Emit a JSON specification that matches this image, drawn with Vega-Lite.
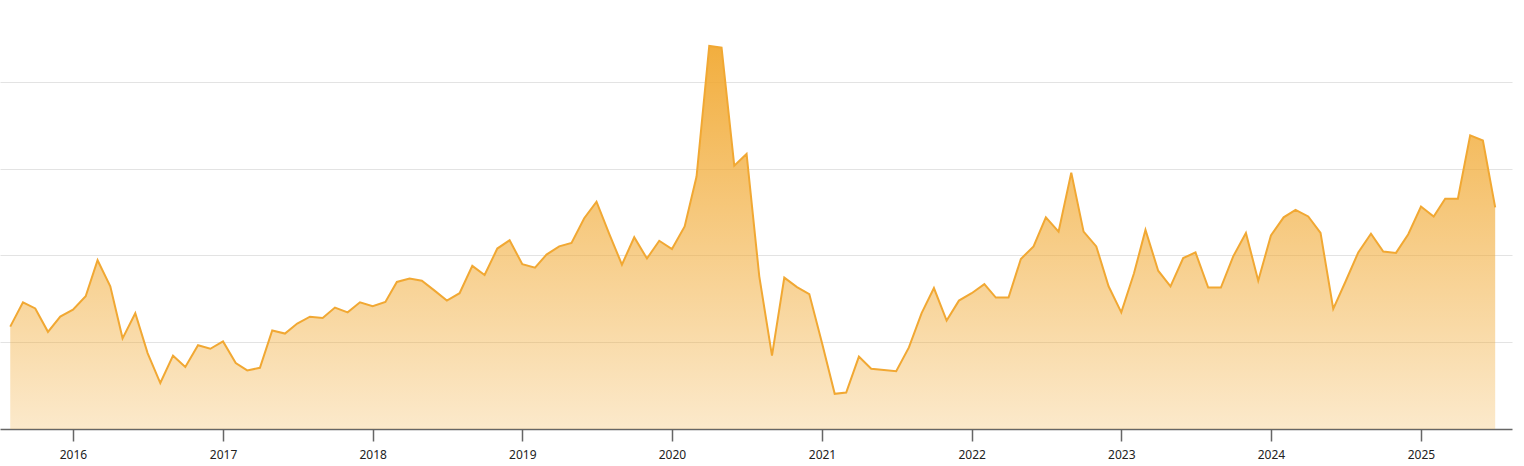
{
  "$schema": "https://vega.github.io/schema/vega-lite/v6.json",
  "width": 1512,
  "height": 429,
  "padding": {"left": 0, "top": 0, "right": 12, "bottom": 1},
  "background": "white",
  "config": {"view": {"stroke": null}},
  "data": {
    "values": [
      {"date": "2015-08-01", "value": 23.6},
      {"date": "2015-09-01", "value": 29.2},
      {"date": "2015-10-01", "value": 27.8},
      {"date": "2015-11-01", "value": 22.4},
      {"date": "2015-12-01", "value": 25.9},
      {"date": "2016-01-01", "value": 27.5},
      {"date": "2016-02-01", "value": 30.6},
      {"date": "2016-03-01", "value": 38.9},
      {"date": "2016-04-01", "value": 32.9},
      {"date": "2016-05-01", "value": 20.9},
      {"date": "2016-06-01", "value": 26.7},
      {"date": "2016-07-01", "value": 17.5},
      {"date": "2016-08-01", "value": 10.6},
      {"date": "2016-09-01", "value": 16.9},
      {"date": "2016-10-01", "value": 14.3},
      {"date": "2016-11-01", "value": 19.3},
      {"date": "2016-12-01", "value": 18.5},
      {"date": "2017-01-01", "value": 20.2},
      {"date": "2017-02-01", "value": 15.2},
      {"date": "2017-03-01", "value": 13.5},
      {"date": "2017-04-01", "value": 14.1},
      {"date": "2017-05-01", "value": 22.7},
      {"date": "2017-06-01", "value": 22.0},
      {"date": "2017-07-01", "value": 24.3},
      {"date": "2017-08-01", "value": 25.9},
      {"date": "2017-09-01", "value": 25.6},
      {"date": "2017-10-01", "value": 28.0},
      {"date": "2017-11-01", "value": 26.9},
      {"date": "2017-12-01", "value": 29.2},
      {"date": "2018-01-01", "value": 28.3},
      {"date": "2018-02-01", "value": 29.3},
      {"date": "2018-03-01", "value": 33.9},
      {"date": "2018-04-01", "value": 34.7},
      {"date": "2018-05-01", "value": 34.2},
      {"date": "2018-06-01", "value": 31.9},
      {"date": "2018-07-01", "value": 29.6},
      {"date": "2018-08-01", "value": 31.3},
      {"date": "2018-09-01", "value": 37.6},
      {"date": "2018-10-01", "value": 35.5},
      {"date": "2018-11-01", "value": 41.6},
      {"date": "2018-12-01", "value": 43.5},
      {"date": "2019-01-01", "value": 38.0},
      {"date": "2019-02-01", "value": 37.2},
      {"date": "2019-03-01", "value": 40.2},
      {"date": "2019-04-01", "value": 42.1},
      {"date": "2019-05-01", "value": 42.9},
      {"date": "2019-06-01", "value": 48.6},
      {"date": "2019-07-01", "value": 52.4},
      {"date": "2019-08-01", "value": 45.0},
      {"date": "2019-09-01", "value": 37.9},
      {"date": "2019-10-01", "value": 44.2},
      {"date": "2019-11-01", "value": 39.3},
      {"date": "2019-12-01", "value": 43.4},
      {"date": "2020-01-01", "value": 41.5},
      {"date": "2020-02-01", "value": 46.7},
      {"date": "2020-03-01", "value": 58.2},
      {"date": "2020-04-01", "value": 88.3},
      {"date": "2020-05-01", "value": 87.9},
      {"date": "2020-06-01", "value": 60.7},
      {"date": "2020-07-01", "value": 63.4},
      {"date": "2020-08-01", "value": 35.2},
      {"date": "2020-09-01", "value": 16.9},
      {"date": "2020-10-01", "value": 34.9},
      {"date": "2020-11-01", "value": 32.7},
      {"date": "2020-12-01", "value": 31.1},
      {"date": "2021-01-01", "value": 19.8},
      {"date": "2021-02-01", "value": 8.1},
      {"date": "2021-03-01", "value": 8.4},
      {"date": "2021-04-01", "value": 16.7},
      {"date": "2021-05-01", "value": 13.9},
      {"date": "2021-06-01", "value": 13.6},
      {"date": "2021-07-01", "value": 13.3},
      {"date": "2021-08-01", "value": 18.8},
      {"date": "2021-09-01", "value": 26.7},
      {"date": "2021-10-01", "value": 32.5},
      {"date": "2021-11-01", "value": 25.0},
      {"date": "2021-12-01", "value": 29.6},
      {"date": "2022-01-01", "value": 31.3},
      {"date": "2022-02-01", "value": 33.4},
      {"date": "2022-03-01", "value": 30.3},
      {"date": "2022-04-01", "value": 30.3},
      {"date": "2022-05-01", "value": 39.2},
      {"date": "2022-06-01", "value": 42.1},
      {"date": "2022-07-01", "value": 48.8},
      {"date": "2022-08-01", "value": 45.5},
      {"date": "2022-09-01", "value": 59.1},
      {"date": "2022-10-01", "value": 45.5},
      {"date": "2022-11-01", "value": 42.1},
      {"date": "2022-12-01", "value": 32.9},
      {"date": "2023-01-01", "value": 26.9},
      {"date": "2023-02-01", "value": 35.9},
      {"date": "2023-03-01", "value": 45.9},
      {"date": "2023-04-01", "value": 36.5},
      {"date": "2023-05-01", "value": 32.9},
      {"date": "2023-06-01", "value": 39.4},
      {"date": "2023-07-01", "value": 40.7},
      {"date": "2023-08-01", "value": 32.6},
      {"date": "2023-09-01", "value": 32.6},
      {"date": "2023-10-01", "value": 39.8},
      {"date": "2023-11-01", "value": 45.2},
      {"date": "2023-12-01", "value": 34.2},
      {"date": "2024-01-01", "value": 44.6},
      {"date": "2024-02-01", "value": 48.8},
      {"date": "2024-03-01", "value": 50.5},
      {"date": "2024-04-01", "value": 49.0},
      {"date": "2024-05-01", "value": 45.2},
      {"date": "2024-06-01", "value": 27.7},
      {"date": "2024-07-01", "value": 34.0},
      {"date": "2024-08-01", "value": 40.7},
      {"date": "2024-09-01", "value": 45.0},
      {"date": "2024-10-01", "value": 40.9},
      {"date": "2024-11-01", "value": 40.6},
      {"date": "2024-12-01", "value": 44.9},
      {"date": "2025-01-01", "value": 51.3},
      {"date": "2025-02-01", "value": 49.0},
      {"date": "2025-03-01", "value": 53.1},
      {"date": "2025-04-01", "value": 53.1},
      {"date": "2025-05-01", "value": 67.7},
      {"date": "2025-06-01", "value": 66.5},
      {"date": "2025-07-01", "value": 51.1}
    ]
  },
  "mark": {
    "type": "area",
    "opacity": 1,
    "fillOpacity": 1,
    "line": {"color": "#f1a833", "strokeWidth": 2, "opacity": 1},
    "color": {
      "x1": 1, "y1": 1, "x2": 1, "y2": 0,
      "gradient": "linear",
      "stops": [
        {"offset": 0, "color": "rgba(241,168,48,0.25)"},
        {"offset": 1, "color": "rgba(241,168,48,0.93)"}
      ]
    }
  },
  "encoding": {
    "x": {
      "field": "date",
      "type": "temporal",
      "scale": {"domain": [{"year": 2015, "month": 7, "date": 7}, {"year": 2025, "month": 8, "date": 11}]},
      "axis": {
        "title": null,
        "format": "%Y",
        "tickCount": "year",
        "grid": false,
        "domainColor": "#666666",
        "domainWidth": 1.5,
        "tickColor": "#666666",
        "tickWidth": 1.5,
        "tickSize": 12,
        "labelPadding": 8,
        "labelFont": "Noto Sans",
        "labelFontSize": 12,
        "labelColor": "#222222",
        "labelFlush": false
      }
    },
    "y": {
      "field": "value",
      "type": "quantitative",
      "scale": {"domain": [0, 98.9], "nice": false, "zero": true},
      "axis": {
        "title": null,
        "values": [20, 40, 60, 80],
        "labels": false,
        "ticks": false,
        "domain": false,
        "grid": true,
        "gridColor": "#e3e3e3",
        "gridWidth": 1,
        "minExtent": 0,
        "maxExtent": 0
      }
    }
  }
}
